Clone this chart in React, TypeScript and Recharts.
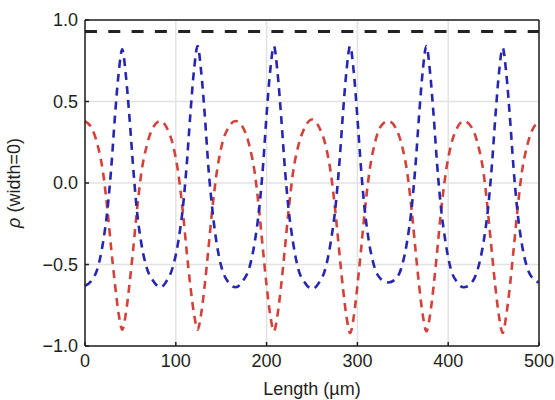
import { useLayoutEffect } from "react";
import { CartesianGrid, Line, LineChart, ReferenceLine, XAxis, YAxis } from "recharts";

// sample positions along the waveguide (µm)
const lengths = [
  0, 7, 14, 20, 25, 29, 33, 37, 41, 45, 49, 53, 57, 62, 68, 75,
  83, 90, 97, 103, 108, 112, 116, 120, 124, 128, 132, 136, 140, 145, 151, 158,
  166, 174, 181, 187, 192, 196, 200, 204, 208, 212, 216, 220, 224, 229, 235, 242,
  250, 258, 265, 271, 276, 280, 284, 288, 292, 296, 300, 304, 308, 313, 319, 326,
  334, 342, 349, 355, 360, 364, 368, 372, 376, 380, 384, 388, 392, 397, 403, 410,
  417, 426, 433, 439, 444, 448, 452, 456, 460, 464, 468, 472, 476, 481, 487, 494,
  500,
];

const blueRho = [
  -0.63, -0.6, -0.52, -0.36, -0.15, 0.1, 0.41, 0.67, 0.82, 0.66, 0.4, 0.1, -0.16, -0.37, -0.52, -0.6,
  -0.64, -0.6, -0.51, -0.35, -0.14, 0.11, 0.42, 0.69, 0.84, 0.68, 0.41, 0.09, -0.15, -0.37, -0.53, -0.61,
  -0.64, -0.6, -0.52, -0.36, -0.15, 0.1, 0.42, 0.69, 0.84, 0.68, 0.41, 0.1, -0.15, -0.36, -0.53, -0.61,
  -0.65, -0.61, -0.52, -0.35, -0.14, 0.11, 0.42, 0.69, 0.84, 0.68, 0.4, 0.09, -0.16, -0.37, -0.52, -0.59,
  -0.61, -0.59, -0.51, -0.35, -0.14, 0.11, 0.42, 0.69, 0.84, 0.68, 0.41, 0.1, -0.15, -0.36, -0.53, -0.61,
  -0.64, -0.61, -0.52, -0.36, -0.15, 0.1, 0.41, 0.68, 0.83, 0.67, 0.4, 0.09, -0.16, -0.37, -0.52, -0.59,
  -0.61,
];

const redRho = [
  0.38, 0.34, 0.23, 0.06, -0.18, -0.41, -0.62, -0.8, -0.9, -0.8, -0.62, -0.41, -0.18, 0.06, 0.23, 0.34,
  0.38, 0.34, 0.23, 0.05, -0.19, -0.42, -0.63, -0.8, -0.9, -0.8, -0.62, -0.4, -0.17, 0.06, 0.24, 0.34,
  0.38, 0.34, 0.23, 0.06, -0.18, -0.41, -0.63, -0.81, -0.91, -0.81, -0.63, -0.41, -0.18, 0.06, 0.23, 0.34,
  0.39, 0.34, 0.23, 0.05, -0.19, -0.42, -0.64, -0.82, -0.92, -0.82, -0.63, -0.41, -0.18, 0.06, 0.24, 0.35,
  0.38, 0.34, 0.23, 0.06, -0.18, -0.41, -0.63, -0.81, -0.91, -0.81, -0.63, -0.41, -0.18, 0.05, 0.23, 0.34,
  0.38, 0.34, 0.23, 0.06, -0.19, -0.42, -0.64, -0.82, -0.92, -0.81, -0.63, -0.41, -0.18, 0.06, 0.23, 0.34,
  0.37,
];

const blackLevel = 0.93;

const xTicks = [0, 100, 200, 300, 400, 500];
const yTicks = [-1, -0.5, 0, 0.5, 1];

const data = lengths.map((x, i) => ({ x, blue: blueRho[i], red: redRho[i] }));

const INK = "#231f20";
const FONT = "'Liberation Sans', Arial, sans-serif";

const fmtY = (v: number) => (v < 0 ? "\u2212" + Math.abs(v).toFixed(1) : v.toFixed(1));

function RhoLabel() {
  return (
    <text
      x={20}
      y={183}
      transform="rotate(-90, 20, 183)"
      textAnchor="middle"
      fill={INK}
      fontSize={18}
      fontFamily={FONT}
    >
      <tspan fontStyle="italic">ρ</tspan> (width=0)
    </text>
  );
}

export default function App() {
  // the chart fills the whole window, so drop the default body margin
  useLayoutEffect(() => {
    document.body.style.margin = "0";
  }, []);

  const tickStyle = { fill: INK, fontSize: 18, fontFamily: FONT };
  return (
    <div style={{ width: 555, height: 400, overflow: "hidden" }}>
      <LineChart
        width={555}
        height={400}
        data={data}
        margin={{ top: 20, right: 16, left: 0, bottom: 0 }}
      >
        <CartesianGrid stroke="#e2e2e2" strokeWidth={1.5} />
        <XAxis
          dataKey="x"
          type="number"
          domain={[0, 500]}
          ticks={xTicks}
          height={54}
          tick={tickStyle}
          tickSize={-4}
          tickMargin={12}
          stroke={INK}
          strokeWidth={1.5}
          label={{
            value: "Length (µm)",
            position: "insideBottom",
            offset: 5,
            fill: INK,
            fontSize: 18,
            fontFamily: FONT,
          }}
        />
        <YAxis
          type="number"
          domain={[-1, 1]}
          ticks={yTicks}
          width={85}
          tick={tickStyle}
          tickFormatter={fmtY}
          tickSize={-4}
          tickMargin={11}
          stroke={INK}
          strokeWidth={1.5}
          label={{ content: () => <RhoLabel /> }}
        />
        <ReferenceLine y={1} stroke={INK} strokeWidth={1.5} />
        <ReferenceLine x={500} stroke={INK} strokeWidth={1.5} />
        <ReferenceLine
          y={blackLevel}
          stroke="#222222"
          strokeWidth={3}
          strokeDasharray="12 11.3"
        />
        <Line
          dataKey="red"
          type="monotone"
          stroke="#d4413b"
          strokeWidth={2.6}
          strokeDasharray="8 6"
          dot={false}
          isAnimationActive={false}
        />
        <Line
          dataKey="blue"
          type="monotone"
          stroke="#2626b0"
          strokeWidth={2.6}
          strokeDasharray="8 6"
          dot={false}
          isAnimationActive={false}
        />
      </LineChart>
    </div>
  );
}
